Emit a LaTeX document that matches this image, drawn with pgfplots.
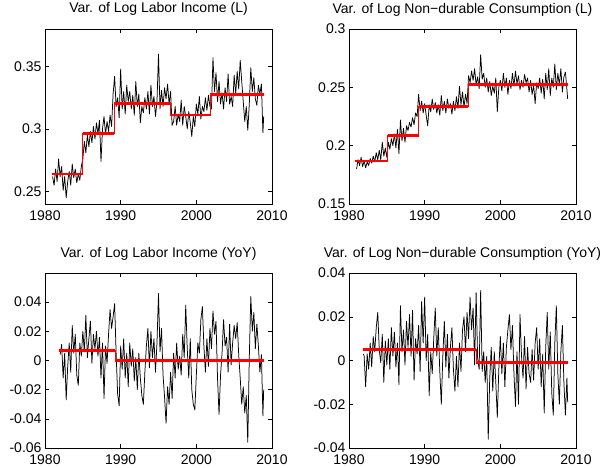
\documentclass[border=0pt]{standalone}
\usepackage{fontspec}
\setmainfont{Liberation Sans}
\usepackage{pgfplots}
\pgfplotsset{compat=1.18}

\pgfplotsset{
  mat/.style={
    scale only axis, width=227pt, height=175pt,
    anchor=south west,
    xmin=1980, xmax=2010,
    xtick={1980,1990,2000,2010},
    xticklabels={1980,1990,2000,2010},
    scaled y ticks=false, scaled x ticks=false,
    tick align=inside, major tick length=4pt,
    axis line style={line width=0.6pt},
    every tick/.style={black, line width=0.5pt},
    font=\fontsize{14}{16}\selectfont,
    tick label style={font=\fontsize{14}{16}\selectfont},
    title style={anchor=base, yshift=10pt, font=\fontsize{14}{16}\selectfont},
    xticklabel style={yshift=-3pt},
  },
  ser/.style={black, line width=0.75pt, line join=round},
  brkv/.style={red, line width=1pt, const plot},
  brk/.style={red, line width=2.6pt, jump mark left},
}

\begin{document}
\begin{tikzpicture}
\path[use as bounding box] (0,0) rectangle (608pt,467pt);

% top left: labor income level
\begin{axis}[mat, at={(45pt,263pt)},
  ymin=0.24, ymax=0.38,
  ytick={0.25,0.3,0.35}, yticklabels={0.25,0.3,0.35},
  title={Var. of Log Labor Income (L)}]
\addplot[ser] table {
1981.0 0.262
1981.2 0.255
1981.4 0.268
1981.6 0.258
1981.8 0.276
1982.0 0.262
1982.2 0.270
1982.4 0.251
1982.6 0.262
1982.8 0.245
1983.0 0.258
1983.2 0.266
1983.4 0.255
1983.6 0.272
1983.8 0.261
1984.0 0.268
1984.2 0.257
1984.4 0.264
1984.6 0.259
1984.8 0.270
1985.0 0.276
1985.2 0.290
1985.4 0.281
1985.6 0.295
1985.8 0.286
1986.0 0.298
1986.2 0.289
1986.4 0.302
1986.6 0.292
1986.8 0.305
1987.0 0.296
1987.2 0.307
1987.4 0.274
1987.6 0.300
1987.8 0.310
1988.0 0.296
1988.2 0.306
1988.4 0.298
1988.6 0.311
1988.8 0.302
1989.0 0.328
1989.2 0.342
1989.4 0.318
1989.6 0.325
1989.8 0.309
1990.0 0.348
1990.2 0.316
1990.4 0.330
1990.6 0.312
1990.8 0.335
1991.0 0.322
1991.2 0.330
1991.4 0.316
1991.6 0.327
1991.8 0.311
1992.0 0.338
1992.2 0.318
1992.4 0.328
1992.6 0.305
1992.8 0.318
1993.0 0.313
1993.2 0.325
1993.4 0.316
1993.6 0.330
1993.8 0.312
1994.0 0.335
1994.2 0.318
1994.4 0.326
1994.6 0.310
1994.8 0.322
1995.0 0.360
1995.2 0.316
1995.4 0.331
1995.6 0.318
1995.8 0.333
1996.0 0.324
1996.2 0.336
1996.4 0.320
1996.6 0.330
1996.8 0.303
1997.0 0.306
1997.2 0.318
1997.4 0.303
1997.6 0.312
1997.8 0.306
1998.0 0.323
1998.2 0.303
1998.4 0.318
1998.6 0.310
1998.8 0.300
1999.0 0.314
1999.2 0.305
1999.4 0.294
1999.6 0.310
1999.8 0.302
2000.0 0.320
2000.2 0.312
2000.4 0.326
2000.6 0.308
2000.8 0.318
2001.0 0.314
2001.2 0.325
2001.4 0.315
2001.6 0.327
2001.8 0.318
2002.0 0.316
2002.2 0.357
2002.4 0.330
2002.6 0.345
2002.8 0.322
2003.0 0.338
2003.2 0.320
2003.4 0.329
2003.6 0.316
2003.8 0.333
2004.0 0.322
2004.2 0.344
2004.4 0.320
2004.6 0.326
2004.8 0.318
2005.0 0.343
2005.2 0.328
2005.4 0.346
2005.6 0.332
2005.8 0.355
2006.0 0.338
2006.2 0.322
2006.4 0.306
2006.6 0.318
2006.8 0.299
2007.0 0.320
2007.2 0.349
2007.4 0.330
2007.6 0.341
2007.8 0.324
2008.0 0.319
2008.2 0.335
2008.4 0.328
2008.6 0.336
2008.8 0.297
2008.9 0.310
};
\addplot[brkv] coordinates {(1980.9,0.264) (1985.0,0.2966) (1989.15,0.3205) (1996.6,0.3112) (2001.85,0.3275) (2008.9,0.3275)};
\addplot[brk] coordinates {(1980.9,0.264) (1985.0,0.2966) (1989.15,0.3205) (1996.6,0.3112) (2001.85,0.3275) (2008.9,0.3275)};
\end{axis}

% top right: consumption level
\begin{axis}[mat, at={(349pt,263pt)},
  ymin=0.15, ymax=0.3,
  ytick={0.15,0.2,0.25,0.3}, yticklabels={0.15,0.2,0.25,0.3},
  title={Var. of Log Non−durable Consumption (L)}]
\addplot[ser] table {
1981.0 0.180
1981.2 0.188
1981.4 0.183
1981.6 0.190
1981.8 0.182
1982.0 0.187
1982.2 0.181
1982.4 0.186
1982.6 0.183
1982.8 0.189
1983.0 0.185
1983.2 0.191
1983.4 0.186
1983.6 0.194
1983.8 0.188
1984.0 0.196
1984.2 0.188
1984.4 0.203
1984.6 0.191
1984.8 0.198
1985.0 0.190
1985.2 0.203
1985.4 0.197
1985.6 0.206
1985.8 0.200
1986.0 0.210
1986.2 0.198
1986.4 0.214
1986.6 0.193
1986.8 0.222
1987.0 0.204
1987.2 0.215
1987.4 0.203
1987.6 0.217
1987.8 0.213
1988.0 0.220
1988.2 0.216
1988.4 0.224
1988.6 0.218
1988.8 0.228
1989.0 0.225
1989.2 0.244
1989.4 0.230
1989.6 0.238
1989.8 0.228
1990.0 0.236
1990.2 0.226
1990.4 0.217
1990.6 0.235
1990.8 0.229
1991.0 0.240
1991.2 0.231
1991.4 0.237
1991.6 0.228
1991.8 0.235
1992.0 0.226
1992.2 0.243
1992.4 0.230
1992.6 0.238
1992.8 0.228
1993.0 0.240
1993.2 0.232
1993.4 0.236
1993.6 0.227
1993.8 0.238
1994.0 0.230
1994.2 0.242
1994.4 0.232
1994.6 0.251
1994.8 0.235
1995.0 0.246
1995.2 0.233
1995.4 0.244
1995.6 0.236
1995.8 0.260
1996.0 0.254
1996.2 0.264
1996.4 0.256
1996.6 0.266
1996.8 0.252
1997.0 0.259
1997.2 0.249
1997.4 0.278
1997.6 0.257
1997.8 0.262
1998.0 0.250
1998.2 0.258
1998.4 0.246
1998.6 0.255
1998.8 0.243
1999.0 0.251
1999.2 0.245
1999.4 0.258
1999.6 0.229
1999.8 0.250
2000.0 0.256
2000.2 0.247
2000.4 0.262
2000.6 0.250
2000.8 0.258
2001.0 0.244
2001.2 0.256
2001.4 0.249
2001.6 0.262
2001.8 0.251
2002.0 0.264
2002.2 0.253
2002.4 0.260
2002.6 0.248
2002.8 0.256
2003.0 0.250
2003.2 0.261
2003.4 0.254
2003.6 0.258
2003.8 0.246
2004.0 0.256
2004.2 0.244
2004.4 0.252
2004.6 0.236
2004.8 0.254
2005.0 0.249
2005.2 0.258
2005.4 0.245
2005.6 0.257
2005.8 0.240
2006.0 0.262
2006.2 0.248
2006.4 0.266
2006.6 0.243
2006.8 0.258
2007.0 0.250
2007.2 0.270
2007.4 0.248
2007.6 0.262
2007.8 0.252
2008.0 0.266
2008.2 0.246
2008.4 0.259
2008.6 0.263
2008.8 0.248
2008.9 0.240
};
\addplot[brkv] coordinates {(1980.85,0.1869) (1985.1,0.2086) (1989.25,0.2334) (1995.75,0.2523) (2008.9,0.2523)};
\addplot[brk] coordinates {(1980.85,0.1869) (1985.1,0.2086) (1989.25,0.2334) (1995.75,0.2523) (2008.9,0.2523)};
\end{axis}

% bottom left: labor income yoy
\begin{axis}[mat, at={(45pt,19pt)},
  ymin=-0.06, ymax=0.06,
  ytick={-0.06,-0.04,-0.02,0,0.02,0.04},
  yticklabels={-0.06,-0.04,-0.02,0,0.02,0.04},
  title={Var. of Log Labor Income (YoY)}]
\addplot[ser] table {
1982.0 0.004
1982.2 0.011
1982.4 -0.012
1982.6 0.005
1982.8 -0.027
1983.0 -0.004
1983.2 0.012
1983.4 -0.008
1983.6 0.024
1983.8 0.005
1984.0 0.018
1984.2 -0.010
1984.4 -0.017
1984.6 0.012
1984.8 0.003
1985.0 0.020
1985.2 0.006
1985.4 0.031
1985.6 0.002
1985.8 0.015
1986.0 0.027
1986.2 -0.002
1986.4 0.018
1986.6 0.008
1986.8 0.020
1987.0 0.003
1987.2 0.016
1987.4 -0.012
1987.6 0.012
1987.8 -0.026
1988.0 0.010
1988.2 -0.002
1988.4 0.018
1988.6 0.035
1988.8 0.022
1989.0 0.030
1989.2 0.039
1989.4 0.005
1989.6 -0.023
1989.8 -0.031
1990.0 0.010
1990.2 -0.006
1990.4 0.015
1990.6 -0.012
1990.8 0.005
1991.0 -0.018
1991.2 0.012
1991.4 -0.004
1991.6 0.008
1991.8 -0.014
1992.0 0.002
1992.2 -0.020
1992.4 0.005
1992.6 -0.012
1992.8 -0.024
1993.0 -0.030
1993.2 -0.008
1993.4 0.010
1993.6 0.022
1993.8 -0.005
1994.0 0.020
1994.2 0.002
1994.4 0.015
1994.6 -0.008
1994.8 0.012
1995.0 0.046
1995.2 0.006
1995.4 0.022
1995.6 -0.010
1995.8 -0.025
1996.0 -0.043
1996.2 -0.018
1996.4 -0.030
1996.6 -0.008
1996.8 -0.026
1997.0 0.005
1997.2 -0.012
1997.4 0.012
1997.6 -0.006
1997.8 0.003
1998.0 -0.010
1998.2 0.018
1998.4 0.002
1998.6 0.038
1998.8 0.008
1999.0 -0.012
1999.2 0.015
1999.4 -0.020
1999.6 -0.030
1999.8 -0.034
2000.0 -0.010
2000.2 0.012
2000.4 0.005
2000.6 0.028
2000.8 0.037
2001.0 0.010
2001.2 -0.008
2001.4 0.015
2001.6 -0.004
2001.8 0.022
2002.0 0.008
2002.2 0.034
2002.4 0.018
2002.6 0.027
2002.8 -0.012
2003.0 -0.037
2003.2 -0.010
2003.4 0.005
2003.6 0.028
2003.8 0.010
2004.0 0.016
2004.2 -0.008
2004.4 0.025
2004.6 -0.003
2004.8 0.012
2005.0 0.024
2005.2 0.015
2005.4 0.026
2005.6 0.004
2005.8 -0.012
2006.0 -0.030
2006.2 -0.018
2006.4 -0.036
2006.6 -0.024
2006.8 -0.056
2007.0 0.002
2007.2 0.044
2007.4 0.020
2007.6 0.033
2007.8 0.008
2008.0 0.025
2008.2 0.010
2008.4 -0.008
2008.6 0.004
2008.8 -0.038
2008.9 -0.020
};
\addplot[brkv] coordinates {(1981.9,0.0069) (1989.3,0.0002) (2008.9,0.0002)};
\addplot[brk] coordinates {(1981.9,0.0069) (1989.3,0.0002) (2008.9,0.0002)};
\end{axis}

% bottom right: consumption yoy
\begin{axis}[mat, at={(349pt,19pt)},
  ymin=-0.04, ymax=0.04,
  ytick={-0.04,-0.02,0,0.02,0.04},
  yticklabels={-0.04,-0.02,0,0.02,0.04},
  title={Var. of Log Non−durable Consumption (YoY)}]
\addplot[ser] table {
1981.9 0.003
1982.0 0.002
1982.2 -0.012
1982.4 0.003
1982.6 -0.004
1982.8 0.008
1983.0 -0.003
1983.2 0.011
1983.4 0.004
1983.6 0.015
1983.8 0.022
1984.0 0.005
1984.2 -0.001
1984.4 0.012
1984.6 -0.010
1984.8 0.009
1985.0 -0.002
1985.2 0.010
1985.4 -0.004
1985.6 0.015
1985.8 0.002
1986.0 0.013
1986.2 -0.003
1986.4 0.008
1986.6 -0.011
1986.8 0.025
1987.0 0.004
1987.2 0.014
1987.4 -0.002
1987.6 0.018
1987.8 0.006
1988.0 0.021
1988.2 0.002
1988.4 0.023
1988.6 -0.009
1988.8 0.010
1989.0 0.003
1989.2 0.016
1989.4 -0.005
1989.6 0.027
1989.8 0.008
1990.0 0.029
1990.2 0.000
1990.4 0.012
1990.6 -0.016
1990.8 0.004
1991.0 -0.006
1991.2 0.010
1991.4 0.024
1991.6 0.002
1991.8 0.015
1992.0 -0.005
1992.2 -0.020
1992.4 0.002
1992.6 0.018
1992.8 -0.003
1993.0 0.012
1993.2 -0.008
1993.4 0.006
1993.6 0.015
1993.8 -0.004
1994.0 -0.014
1994.2 0.002
1994.4 -0.012
1994.6 0.008
1994.8 -0.005
1995.0 0.014
1995.2 0.020
1995.4 0.004
1995.6 0.022
1995.8 0.010
1996.0 0.029
1996.2 0.014
1996.4 0.024
1996.6 -0.002
1996.8 0.031
1997.0 0.001
1997.2 -0.004
1997.4 0.032
1997.6 -0.005
1997.8 0.004
1998.0 -0.010
1998.2 0.002
1998.4 -0.036
1998.6 -0.008
1998.8 0.006
1999.0 -0.014
1999.2 0.004
1999.4 -0.010
1999.6 -0.026
1999.8 -0.004
2000.0 0.011
2000.2 -0.006
2000.4 0.008
2000.6 -0.012
2000.8 0.006
2001.0 0.014
2001.2 0.021
2001.4 0.005
2001.6 0.016
2001.8 -0.006
2002.0 -0.021
2002.2 0.004
2002.4 -0.020
2002.6 0.021
2002.8 0.002
2003.0 -0.008
2003.2 0.011
2003.4 -0.013
2003.6 0.006
2003.8 -0.006
2004.0 -0.010
2004.2 0.005
2004.4 -0.009
2004.6 0.008
2004.8 0.015
2005.0 -0.004
2005.2 0.010
2005.4 -0.012
2005.6 0.003
2005.8 -0.024
2006.0 0.006
2006.2 0.022
2006.4 -0.004
2006.6 0.013
2006.8 -0.015
2007.0 -0.025
2007.2 0.008
2007.4 0.025
2007.6 -0.006
2007.8 -0.020
2008.0 0.004
2008.2 0.016
2008.4 -0.010
2008.6 -0.025
2008.8 -0.008
2008.9 -0.019
};
\addplot[brkv] coordinates {(1981.85,0.005) (1996.8,-0.0008) (2008.9,-0.0008)};
\addplot[brk] coordinates {(1981.85,0.005) (1996.8,-0.0008) (2008.9,-0.0008)};
\end{axis}
\end{tikzpicture}
\end{document}
